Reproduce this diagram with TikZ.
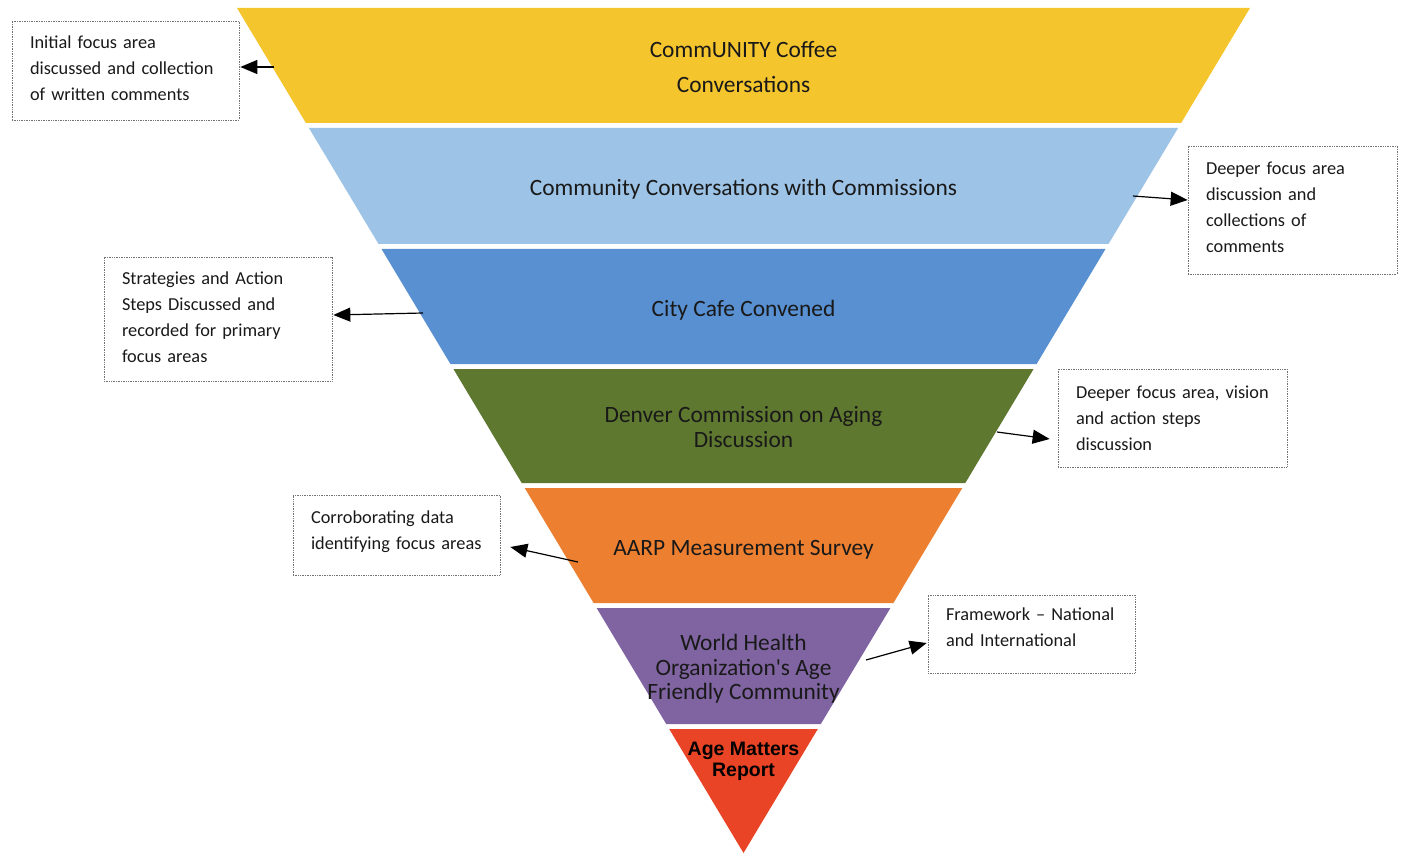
\documentclass[tikz,border=0pt]{standalone}
\usepackage{fontspec}
\setmainfont{Carlito}
\newfontfamily\arialf{Liberation Sans}
\usetikzlibrary{arrows.meta,calc}
\definecolor{cyel}{RGB}{245,197,46}
\definecolor{clblue}{RGB}{157,195,230}
\definecolor{cblue}{RGB}{88,144,210}
\definecolor{cgreen}{RGB}{95,120,48}
\definecolor{corange}{RGB}{237,127,49}
\definecolor{cpurple}{RGB}{128,100,162}
\definecolor{cred}{RGB}{233,68,38}
\definecolor{ctext}{RGB}{25,25,25}
\begin{document}
\begin{tikzpicture}[x=1pt,y=-1pt,
  bandtext/.style={align=center,text=ctext,inner sep=0pt,font=\fontsize{23.4}{24.5}\selectfont},
  boxframe/.style={draw=black!55,densely dotted,line width=0.7pt,inner sep=0pt},
  boxtext/.style={align=left,text=ctext,inner sep=0pt,font=\fontsize{18.3}{26}\selectfont},
  arr/.style={-{Triangle[length=17pt,width=14pt]},line width=1.2pt,black}]
\useasboundingbox (0,0) rectangle (1403,853);
% bands
\fill[cyel]    (237,8)     -- (1250,8)     -- (1181.1,123) -- (305.9,123) -- cycle;
\fill[clblue]  (308.9,128) -- (1178.1,128) -- (1108.5,244) -- (378.5,244) -- cycle;
\fill[cblue]   (381.5,249) -- (1105.5,249) -- (1036.6,364) -- (450.4,364) -- cycle;
\fill[cgreen]  (453.4,369) -- (1033.6,369) -- (965.3,483)  -- (521.7,483) -- cycle;
\fill[corange] (524.7,488) -- (962.3,488)  -- (893.4,603)  -- (593.6,603) -- cycle;
\fill[cpurple] (596.6,608) -- (890.4,608)  -- (820.8,724)  -- (666.2,724) -- cycle;
\fill[cred]    (669.2,729) -- (817.8,729)  -- (743.5,853)  -- cycle;
% band labels
\node[bandtext,font=\fontsize{23.4}{35}\selectfont] (l1) at (743.5,67.5) {CommUNITY Coffee\\Conversations};
\node[bandtext] (l2) at (743.5,189) {Community Conversations with Commissions};
\node[bandtext] (l3) at (743.5,310) {City Cafe Convened};
\node[bandtext] (l4) at (743.5,427) {Denver Commission on Aging\\Discussion};
\node[bandtext] (l5) at (743.5,550) {AARP Measurement Survey};
\node[bandtext] (l6) at (743.5,669) {World Health\\Organization\textquotesingle s Age\\Friendly Community};
\node[bandtext,font=\arialf\bfseries\fontsize{19.5}{21}\selectfont,text=black] (l7) at (743.5,761.5) {Age Matters\\Report};
% side boxes
\node[boxframe,minimum width=227pt,minimum height=99pt] (b1) at (125.5,70.5) {};
\node[boxframe,minimum width=209pt,minimum height=128pt] (b2) at (1292.5,210) {};
\node[boxframe,minimum width=228pt,minimum height=124pt] (b3) at (218,319) {};
\node[boxframe,minimum width=229pt,minimum height=98pt] (b4) at (1172.5,418) {};
\node[boxframe,minimum width=207pt,minimum height=80pt] (b5) at (396.5,535) {};
\node[boxframe,minimum width=207pt,minimum height=78pt] (b6) at (1031.5,634) {};
\node[boxtext,text width=191pt] (t1) at ($(b1)+(0,-2.5)$) {Initial focus area\\discussed and collection\\of written comments};
\node[boxtext,text width=173pt] (t2) at ($(b2)+(0,-3)$) {Deeper focus area\\discussion and\\collections of\\comments};
\node[boxtext,text width=192pt] (t3) at ($(b3)+(0,-2)$) {Strategies and Action\\Steps Discussed and\\recorded for primary\\focus areas};
\node[boxtext,text width=193pt] (t4) at ($(b4)+(0,0)$) {Deeper focus area, vision\\and action steps\\discussion};
\node[boxtext,text width=171pt] (t5) at ($(b5)+(0,-3.5)$) {Corroborating data\\identifying focus areas};
\node[boxtext,text width=171pt] (t6) at ($(b6)+(0,-6.5)$) {Framework -- National\\and International};
% arrow starts
\coordinate (s1) at (274,67);
\coordinate (s2) at (1133,196);
\coordinate (s3) at (423,313);
\coordinate (s4) at (997,432);
\coordinate (s5) at (578,562);
\coordinate (s6) at (866,660);
\draw[arr] (s1) -- ($(b1.east)+(1,-3.5)$);
\draw[arr] (s2) -- ($(b2.west)+(0,-10)$);
\draw[arr] (s3) -- ($(b3.east)+(1,-4)$);
\draw[arr] (s4) -- ($(b4.west)+(-8,21)$);
\draw[arr] (s5) -- ($(b5.east)+(10,12)$);
\draw[arr] (s6) -- ($(b6.west)+(-1,9)$);
\end{tikzpicture}
\end{document}
